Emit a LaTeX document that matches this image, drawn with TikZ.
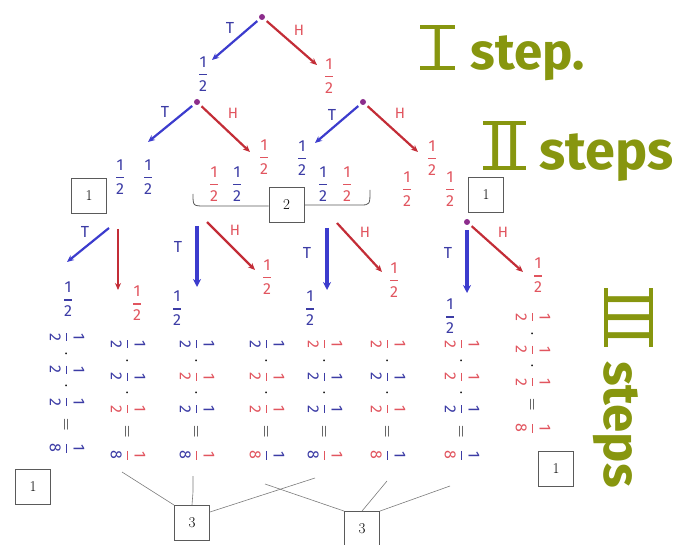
\documentclass[tikz,border=0pt]{standalone}
\usepackage{fontspec}
\usepackage{amsmath}
\newfontfamily\lblfont{Fira Sans}
\usetikzlibrary{arrows.meta}
\definecolor{tblue}{RGB}{60,60,165}
\definecolor{hred}{RGB}{225,85,95}
\definecolor{ablue}{RGB}{60,60,205}
\definecolor{ared}{RGB}{195,45,55}
\definecolor{dotc}{RGB}{140,45,140}
\definecolor{olivec}{RGB}{135,150,15}
\definecolor{boxc}{RGB}{90,90,90}
\newcommand{\fd}[1]{\text{\lblfont #1}}
\newcommand{\halfB}{\textcolor{tblue}{\genfrac{}{}{1.1pt}{0}{\fd{1}}{\fd{2}}}}
\newcommand{\halfR}{\textcolor{hred}{\genfrac{}{}{1.1pt}{0}{\fd{1}}{\fd{2}}}}
\newcommand{\eig}[2]{\textcolor{#1}{\genfrac{}{}{1.1pt}{0}{\fd{1}}{\textcolor{#2}{\fd{8}}}}}
\newcommand{\md}{\mkern5mu\cdot\mkern5mu}
\newcommand{\meq}{\mkern12mu{=}\mkern12mu}
\newcommand{\romn}[2]{\vbox{\hrule height 4pt\kern-1pt\hbox{\kern#2\relax #1\kern#2}\kern-1pt\hrule height 4pt}}
\tikzset{
  tarrow/.style={draw=ablue,line width=2.2pt,-{Stealth[length=7pt,width=6pt]},shorten <=3pt},
  tvarrow/.style={draw=ablue,line width=3.2pt,-{Stealth[length=8pt,width=8pt]}},
  harrow/.style={draw=ared,line width=2.2pt,-{Stealth[length=7pt,width=6pt]},shorten <=3pt},
  tdot/.style={circle,fill=dotc,inner sep=0pt,minimum size=6pt},
  frac/.style={inner sep=0pt,font=\fontsize{16}{18}\selectfont},
  tlab/.style={text=tblue,font=\lblfont\fontsize{16}{16}\selectfont,inner sep=0pt},
  hlab/.style={text=hred,font=\lblfont\fontsize{15}{15}\selectfont,inner sep=0pt},
  cbox/.style={draw=boxc,line width=0.9pt,minimum width=35pt,minimum height=35pt,inner sep=0pt,font=\fontsize{15}{15}\selectfont},
  formula/.style={rotate=-90,inner sep=0pt,font=\fontsize{16}{18}\selectfont},
  link/.style={draw=boxc!80,line width=0.6pt},
  bigl/.style={text=olivec,inner sep=0pt,anchor=base west}
}
\begin{document}
\begin{tikzpicture}[x=1pt,y=-1pt]
\useasboundingbox (0,0) rectangle (677,545);
% ---------- level 1
\node[tdot] (r0) at (262,17) {};
\coordinate (r0T) at (212,60);
\coordinate (r0H) at (317,65);
\draw[tarrow] (r0) -- (r0T);
\draw[harrow] (r0) -- (r0H);
\node[tlab] (r0t) at (230,28) {T};
\node[hlab] (r0h) at (299,30) {H};
\node[frac] (p1b) at (203,74) {$\halfB$};
\node[frac] (p1r) at (329,76) {$\halfR$};
% ---------- level 2
\node[tdot] (nL) at (197,102) {};
\node[tdot] (nR) at (363,102) {};
\coordinate (nLT) at (148,142);
\coordinate (nLH) at (250,152);
\coordinate (nRT) at (315,143);
\coordinate (nRH) at (418,152);
\draw[tarrow] (nL) -- (nLT);
\draw[harrow] (nL) -- (nLH);
\draw[tarrow] (nR) -- (nRT);
\draw[harrow] (nR) -- (nRH);
\node[tlab] (nLt) at (165,112) {T};
\node[hlab] (nLh) at (233,113) {H};
\node[tlab] (nRt) at (332,115) {T};
\node[hlab] (nRh) at (400,113) {H};
\node[frac] (p2a) at (264,157) {$\halfR$};
\node[frac] (p2b) at (302,158) {$\halfB$};
\node[frac] (p2c) at (432,158) {$\halfR$};
% pairs
\node[frac] (q1) at (120,177) {$\halfB$};
\node[frac] (q2) at (148,177) {$\halfB$};
\node[frac] (q3) at (214,184) {$\halfR$};
\node[frac] (q4) at (237,184) {$\halfB$};
\node[frac] (q5) at (323,184) {$\halfB$};
\node[frac] (q6) at (347,184) {$\halfR$};
\node[frac] (q7) at (407,189) {$\halfR$};
\node[frac] (q8) at (450,189) {$\halfR$};
\node[cbox] (b1a) at (89,196) {1};
\node[cbox] (b2) at (286.5,204.5) {2};
\node[cbox] (b1b) at (486,195) {1};
\coordinate (brL) at (193,194);
\coordinate (brR) at (370,190);
\draw[link,draw=boxc,line width=0.8pt] (brL) .. controls (193,206) .. (205,206) -- (b2.west |- 0,206);
\draw[link,draw=boxc,line width=0.8pt] (b2.east |- 0,205) -- (360,205) .. controls (370,205) .. (brR);
% ---------- level 3
\coordinate (aT0) at (109,228);
\coordinate (aH0) at (118,229);
\coordinate (aT) at (67,262);
\coordinate (aH) at (118,290);
\draw[tarrow,shorten <=0pt] (aT0) -- (aT);
\draw[harrow,shorten <=0pt] (aH0) -- (aH);
\node[tlab] (at) at (85,232) {T};
\coordinate (bT0) at (197,226);
\coordinate (bH0) at (207,222);
\coordinate (bT) at (197,287);
\coordinate (bH) at (255,270);
\draw[tvarrow] (bT0) -- (bT);
\draw[harrow,shorten <=0pt] (bH0) -- (bH);
\node[tlab] (bt) at (178,247) {T};
\node[hlab] (bh) at (235,230) {H};
\coordinate (cT0) at (327,228);
\coordinate (cH0) at (337,223);
\coordinate (cT) at (327,290);
\coordinate (cH) at (382,272);
\draw[tvarrow] (cT0) -- (cT);
\draw[harrow,shorten <=0pt] (cH0) -- (cH);
\node[tlab] (ct) at (307,253) {T};
\node[hlab] (ch) at (365,232) {H};
\node[tdot] (nD) at (467,222) {};
\coordinate (dT) at (467,293);
\coordinate (dH) at (523,272);
\draw[tvarrow,shorten <=5pt] (nD) -- (dT);
\draw[harrow] (nD) -- (dH);
\node[tlab] (dt) at (448,253) {T};
\node[hlab] (dh) at (503,232) {H};
\node[frac] (s1) at (68,299) {$\halfB$};
\node[frac] (s2) at (137,303) {$\halfR$};
\node[frac] (s3) at (177,308) {$\halfB$};
\node[frac] (s4) at (267,277) {$\halfR$};
\node[frac] (s5) at (310,308) {$\halfB$};
\node[frac] (s6) at (394,280) {$\halfR$};
\node[frac] (s7) at (450,316) {$\halfB$};
\node[frac] (s8) at (538,275) {$\halfR$};
% ---------- products
\node[formula] (f1) at (67,393) {$\halfB\md\halfB\md\halfB\meq\eig{tblue}{tblue}$};
\node[formula] (f2) at (128,400) {$\halfB\md\halfB\md\halfR\meq\eig{hred}{tblue}$};
\node[formula] (f3) at (197,400) {$\halfB\md\halfR\md\halfB\meq\eig{hred}{tblue}$};
\node[formula] (f4) at (267,400) {$\halfB\md\halfR\md\halfR\meq\eig{tblue}{hred}$};
\node[formula] (f5) at (325,400) {$\halfR\md\halfB\md\halfB\meq\eig{hred}{tblue}$};
\node[formula] (f6) at (388,400) {$\halfR\md\halfB\md\halfR\meq\eig{tblue}{hred}$};
\node[formula] (f7) at (462,400) {$\halfR\md\halfR\md\halfB\meq\eig{tblue}{hred}$};
\node[formula] (f8) at (533,373) {$\halfR\md\halfR\md\halfR\meq\eig{hred}{hred}$};
% ---------- counts
\node[cbox] (c1a) at (33,487) {1};
\node[cbox] (c3a) at (192,523) {3};
\node[cbox] (c3b) at (362,529) {3};
\node[cbox] (c1b) at (556,469) {1};
\coordinate (e2) at (122,472);
\coordinate (e3) at (193,476);
\coordinate (e4) at (265,484);
\coordinate (e5) at (315,478);
\coordinate (e6) at (387,481);
\coordinate (e7) at (450,486);
\draw[link] (e2) -- (c3a.north west);
\draw[link] (e3) -- (193,492) -- (c3a.north);
\draw[link] (e5) -- (c3a.east |- 0,512);
\draw[link] (e4) -- (c3b.north west);
\draw[link] (e6) -- (c3b.north);
\draw[link] (e7) -- (c3b.north east);
% ---------- step labels
\node[bigl] (L1) at (420,70) {\lblfont\fontsize{56}{56}\selectfont\romn{I}{9pt}\hspace{16pt}\bfseries\fontsize{51}{51}\selectfont step.};
\node[bigl] (L2) at (483,170) {\lblfont\fontsize{62}{62}\selectfont\romn{II}{3pt}\hspace{14pt}\bfseries\fontsize{54}{54}\selectfont steps};
\node[bigl,rotate=-90] (L3) at (604,288) {\lblfont\fontsize{62}{62}\selectfont\romn{III}{2pt}\hspace{14pt}\bfseries\fontsize{51}{51}\selectfont steps};
\end{tikzpicture}
\end{document}
